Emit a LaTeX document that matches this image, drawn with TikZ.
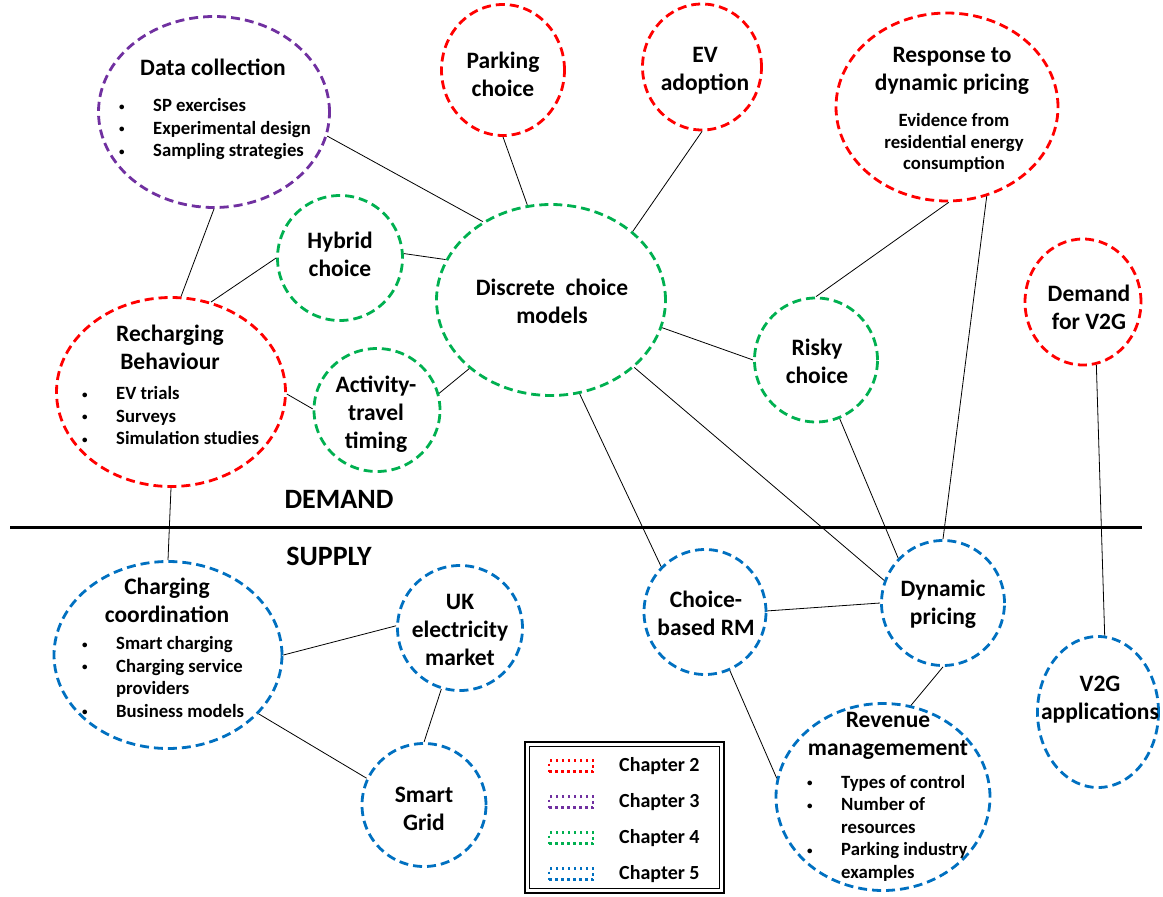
\documentclass[tikz,border=0pt]{standalone}
\usepackage{fontspec}
\setmainfont{Carlito}
\usetikzlibrary{shapes.geometric}
\definecolor{chred}{HTML}{FF0000}
\definecolor{chpurple}{HTML}{7030A0}
\definecolor{chgreen}{HTML}{00B050}
\definecolor{chblue}{HTML}{0070C0}
\newcommand\bul{\makebox[35pt][l]{\hspace{1pt}\raisebox{1.5pt}{\fontsize{11}{11}\selectfont\textbullet}}}
\newcommand\nobul{\makebox[35pt][l]{}}
\begin{document}
\begin{tikzpicture}[x=1pt,y=-1pt,
  bubble/.style={ellipse, line width=2.8pt, dash pattern=on 9pt off 5pt, inner sep=0pt},
  red bubble/.style={bubble, draw=chred},
  purple bubble/.style={bubble, draw=chpurple},
  green bubble/.style={bubble, draw=chgreen},
  blue bubble/.style={bubble, draw=chblue},
  title/.style={align=center, inner sep=0pt, font=\fontsize{23.5}{28}\selectfont\bfseries},
  items/.style={align=left, inner sep=0pt, anchor=west, font=\fontsize{18.7}{22.5}\selectfont\bfseries},
  heading/.style={inner sep=0pt, font=\fontsize{28}{32}\selectfont\bfseries},
  conn/.style={line width=0.8pt, black},
  sample/.style={draw, line width=2.4pt, dash pattern=on 2.5pt off 3.5pt, minimum width=44pt, minimum height=11pt, inner sep=0pt},
  legtext/.style={anchor=west, inner sep=0pt, font=\fontsize{20}{24}\selectfont\bfseries}]
\useasboundingbox (0,0) rectangle (1163,897);

% ---- bubbles ----
\node[purple bubble, minimum width=231pt, minimum height=191pt] (dc) at (214,112) {};
\node[red bubble, minimum width=123pt, minimum height=131pt] (park) at (503,70) {};
\node[red bubble, minimum width=119pt, minimum height=126pt] (ev) at (702,67) {};
\node[red bubble, minimum width=222pt, minimum height=188pt] (resp) at (947,107) {};
\node[red bubble, minimum width=116pt, minimum height=126pt] (dv2g) at (1083,302) {};
\node[green bubble, minimum width=125pt, minimum height=125pt] (hyb) at (340,258) {};
\node[green bubble, minimum width=229pt, minimum height=191pt] (dcm) at (551,300) {};
\node[green bubble, minimum width=123pt, minimum height=124pt] (risky) at (816,360) {};
\node[red bubble, minimum width=229pt, minimum height=189pt] (rech) at (171,392) {};
\node[green bubble, minimum width=126pt, minimum height=123pt] (act) at (377,410) {};
\node[blue bubble, minimum width=228pt, minimum height=187pt] (ccoord) at (168,655) {};
\node[blue bubble, minimum width=125pt, minimum height=125pt] (uk) at (460,628) {};
\node[blue bubble, minimum width=124pt, minimum height=123pt] (smart) at (424,805) {};
\node[blue bubble, minimum width=122pt, minimum height=125pt] (crm) at (705,612) {};
\node[blue bubble, minimum width=123pt, minimum height=125pt] (dyn) at (943,603) {};
\node[blue bubble, minimum width=214pt, minimum height=187pt] (rev) at (883,797) {};
\node[blue bubble, minimum width=121pt, minimum height=151pt] (v2g) at (1098,712) {};

% ---- texts ----
\node[title] (dct) at (213,67) {Data collection};
\node[items] (dcl) at (118,129.5) {\bul SP exercises\\ \bul Experimental design\\ \bul Sampling strategies};
\node[title] (parkt) at (503,74) {Parking\\choice};
\node[title] (evt) at (705,71) {EV\\adoption};
\node[title] (respt) at (952,71) {Response to\\dynamic pricing};
\node[align=center, inner sep=0pt, font=\fontsize{18.7}{21.5}\selectfont\bfseries] (resps) at (954,143) {Evidence from\\residential energy\\consumption};
\node[title] (dv2gt) at (1089,307) {Demand\\for V2G};
\node[title] (hybt) at (340,254) {Hybrid\\choice};
\node[title] (dcmt) at (552,301) {Discrete~~choice\\models};
\node[title] (riskyt) at (817,361) {Risky\\choice};
\node[title] (recht) at (170,347) {Recharging\\Behaviour};
\node[items] (rechl) at (81,416) {\bul EV trials\\ \bul Surveys\\ \bul Simulation studies};
\node[title] (actt) at (376,414) {Activity-\\travel\\timing};
\node[heading] (demand) at (339,499) {DEMAND};
\node[heading] (supply) at (329,556) {SUPPLY};
\node[title] (ccoordt) at (167,600) {Charging\\coordination};
\node[items] (ccoordl) at (81,677) {\bul Smart charging\\ \bul Charging service\\ \nobul providers\\ \bul Business models};
\node[title] (ukt) at (460,630) {UK\\electricity\\market};
\node[title] (smartt) at (424,809) {Smart\\Grid};
\node[title] (crmt) at (706,613) {Choice-\\based RM};
\node[title] (dynt) at (943,604) {Dynamic\\pricing};
\node[title] (revt) at (888,736) {Revenue\\managemement};
\node[items] (revl) at (806,828) {\bul Types of control\\ \bul Number of\\ \nobul resources\\ \bul Parking industry\\ \nobul examples};
\node[title] (v2gt) at (1100,700) {V2G\\applications};

% ---- demand / supply divider ----
\coordinate (divl) at (10,527);
\coordinate (divr) at (1142,527);
\draw[line width=3pt] (divl) -- (divr);

% ---- connectors ----
\draw[conn] (dc.-12) -- (dcm.131);
\draw[conn] (park.south) -- (dcm.104);
\draw[conn] (ev.south) -- (dcm.40);
\draw[conn] (dc.south) -- (rech.84);
\draw[conn] (hyb.west) -- (rech.66);
\draw[conn] (hyb.4) -- (dcm.159);
\draw[conn] (dcm.220) -- (act.15);
\draw[conn] (rech.-1.5) -- (act.179);
\draw[conn] (dcm.-14) -- (risky.west);
\draw[conn] (resp.-89) -- (risky.north);
\draw[conn] (resp.-66.6) -- (dyn.north);
\draw[conn] (risky.-68) -- (dyn.135);
\draw[conn] (dcm.-39) -- (dyn.159);
\draw[conn] (dcm.-73) -- (crm.134);
\draw[conn] (rech.south) -- (ccoord.north);
\draw[conn] (crm.1) -- (dyn.west);
\draw[conn] (dv2g.-78) -- (v2g.85);
\draw[conn] (dyn.south) -- (rev.73);
\draw[conn] (crm.-67) -- (rev.170);
\draw[conn] (ccoord.0) -- (uk.178);
\draw[conn] (uk.-107) -- (smart.north);
\draw[conn] (ccoord.-33) -- (smart.155);

% ---- legend ----
\draw[line width=2pt] (525,742) rectangle (724,893);
\draw[line width=0.8pt] (529.5,746.5) rectangle (719.5,888.5);
\node[sample, draw=chred] (s2) at (571,766) {};
\node[sample, draw=chpurple] (s3) at (571,802) {};
\node[sample, draw=chgreen] (s4) at (571,838) {};
\node[sample, draw=chblue] (s5) at (571,874) {};
\node[legtext] (l2) at (619,766) {Chapter 2};
\node[legtext] (l3) at (619,802) {Chapter 3};
\node[legtext] (l4) at (619,838) {Chapter 4};
\node[legtext] (l5) at (619,874) {Chapter 5};
\end{tikzpicture}
\end{document}
